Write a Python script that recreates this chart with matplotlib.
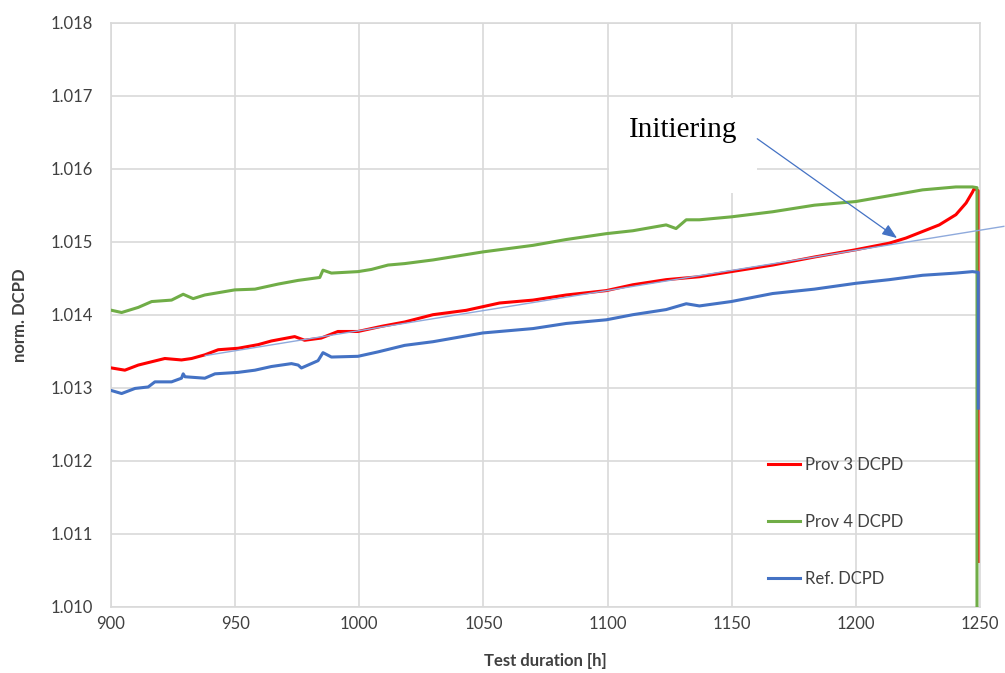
import matplotlib
matplotlib.use("Agg")
import matplotlib.pyplot as plt
from matplotlib.patches import Rectangle

# ---- data ----
green_t = [900.3, 904.3, 911, 916.4, 924.4, 929.1, 933.1, 937.8, 949.9, 958, 967.4, 975.4, 984.1, 985.4,
           988.8, 999.5, 1004.9, 1011.6, 1018.3, 1029.7, 1049.8, 1070, 1083.4, 1099.5, 1110.2, 1123.6,
           1127.6, 1131.7, 1137, 1149.8, 1166.5, 1183.3, 1200, 1213.5, 1226.9, 1240.3, 1247, 1248.8, 1248.8]
green_v = [1.01406, 1.01403, 1.01410, 1.01418, 1.01420, 1.01428, 1.01422, 1.01427, 1.01434, 1.01435,
           1.01442, 1.01447, 1.01451, 1.01461, 1.01457, 1.01459, 1.01462, 1.01468, 1.01470, 1.01475,
           1.01486, 1.01495, 1.01503, 1.01511, 1.01515, 1.01523, 1.01518, 1.01530, 1.01530, 1.01534,
           1.01541, 1.01550, 1.01555, 1.01563, 1.01571, 1.01575, 1.01575, 1.01574, 1.0095]

red_t = [900.3, 905.6, 911, 921.7, 928.4, 932.5, 937.8, 943.2, 951.2, 959.3, 964.6, 974, 978, 984.7,
         991.4, 999.5, 1008.9, 1018.3, 1029.7, 1043.1, 1056.5, 1070, 1083.4, 1099.5, 1110.2, 1123.6,
         1137, 1149.8, 1166.5, 1183.3, 1200, 1213.5, 1220.2, 1226.9, 1233.6, 1240.3, 1244.4, 1247,
         1247.7, 1249.2, 1249.2]
red_v = [1.01327, 1.01324, 1.01331, 1.01340, 1.01338, 1.01340, 1.01345, 1.01352, 1.01354, 1.01359,
         1.01364, 1.01370, 1.01365, 1.01368, 1.01377, 1.01377, 1.01384, 1.01390, 1.01400, 1.01406,
         1.01416, 1.01420, 1.01427, 1.01433, 1.01441, 1.01448, 1.01452, 1.01459, 1.01468, 1.01479,
         1.01489, 1.01498, 1.01505, 1.01514, 1.01523, 1.01537, 1.01553, 1.01568, 1.01573, 1.0157,
         1.01062]

blue_t = [900.3, 904.3, 909.7, 915, 917.7, 924.4, 928.4, 929.1, 929.8, 937.8, 941.9, 951.2, 958, 964.6,
          972.7, 975.4, 976.7, 983.4, 985.4, 988.8, 999.5, 1007.5, 1018.3, 1029.7, 1049.8, 1070, 1083.4,
          1099.5, 1110.2, 1123.6, 1131.7, 1137, 1149.8, 1166.5, 1183.3, 1200, 1213.5, 1226.9, 1240.3,
          1247, 1249.3, 1249.3]
blue_v = [1.01296, 1.01292, 1.01299, 1.01301, 1.01308, 1.01308, 1.01313, 1.01319, 1.01315, 1.01313,
          1.01319, 1.01321, 1.01324, 1.01329, 1.01333, 1.01331, 1.01327, 1.01337, 1.01348, 1.01342,
          1.01343, 1.01349, 1.01358, 1.01363, 1.01375, 1.01381, 1.01388, 1.01393, 1.01400, 1.01407,
          1.01415, 1.01412, 1.01418, 1.01429, 1.01435, 1.01443, 1.01448, 1.01454, 1.01457, 1.01459,
          1.01458, 1.01272]

trend_t = [938, 1259.6]
trend_v = [1.01344, 1.01521]

labels = ["Prov 3 DCPD", "Prov 4 DCPD", "Ref. DCPD"]
x_ticks = [900, 950, 1000, 1050, 1100, 1150, 1200, 1250]
y_ticks = [1.010, 1.011, 1.012, 1.013, 1.014, 1.015, 1.016, 1.017, 1.018]

annot_text = "Initiering"
annot_text_xy = (1108.8, 1.016434)
annot_arrow_start = (1160.3, 1.01641)
annot_arrow_tip = (1216.6, 1.01505)

# ---- figure ----
plt.rcParams['font.family'] = ['Lato', 'DejaVu Sans']
fig = plt.figure(figsize=(10.05, 6.73), dpi=100)
ax = fig.add_axes([0.1104, 0.0985, 0.8647, 0.8678])

ax.plot(red_t, red_v, color="#FF0000", lw=2.2, label=labels[0], zorder=3)
ax.plot(green_t, green_v, color="#70AD47", lw=2.2, label=labels[1], zorder=4)
ax.plot(blue_t, blue_v, color="#4472C4", lw=2.2, label=labels[2], zorder=5)

# linear trend line (annotation, extends past plot edge)
ax.plot(trend_t, trend_v, color="#8FAADC", lw=1.0, zorder=6, clip_on=False)

ax.set_xlim(900, 1250)
ax.set_ylim(1.010, 1.018)
ax.set_xticks(x_ticks)
ax.set_yticks(y_ticks)
ax.set_yticklabels([f"{v:.3f}" for v in y_ticks])
ax.tick_params(axis='both', length=0, labelsize=12, colors="#404040")
ax.tick_params(axis='y', pad=13)
ax.tick_params(axis='x', pad=7)
ax.grid(True, color="#D9D9D9", lw=1.2, zorder=0)
ax.set_axisbelow(True)
for s in ax.spines.values():
    s.set_color("#D9D9D9")
    s.set_linewidth(1.2)

ax.set_xlabel("Test duration [h]", fontsize=12, fontweight='bold', color="#404040", labelpad=15)
ax.set_ylabel("norm. DCPD", fontsize=12, fontweight='bold', color="#404040", labelpad=16)

# white text box behind annotation
ax.add_patch(Rectangle((1100.7, 1.015667), 1160.3 - 1100.7, 1.01697 - 1.015667,
                       facecolor='white', edgecolor='none', zorder=1.5))
ax.text(annot_text_xy[0], annot_text_xy[1], annot_text, fontsize=21,
        family=['Liberation Serif', 'DejaVu Serif'], va='baseline', ha='left', zorder=7)
ax.annotate("", xy=annot_arrow_tip, xytext=annot_arrow_start,
            arrowprops=dict(arrowstyle="-|>,head_length=0.9,head_width=0.35",
                            color="#4472C4", lw=0.9, shrinkA=0, shrinkB=0),
            zorder=7)

leg = ax.legend(loc='center left', bbox_to_anchor=(0.739, 0.145), frameon=False,
                fontsize=12, handlelength=1.9, handletextpad=0.3, labelspacing=2.45)
for t in leg.get_texts():
    t.set_color("#404040")

fig.savefig("out.png", dpi=100)
